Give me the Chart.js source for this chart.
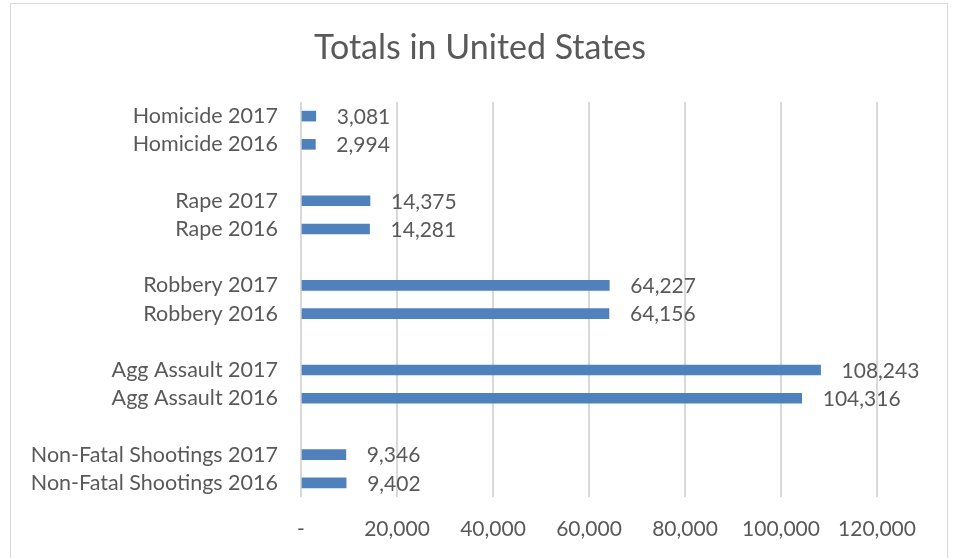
<!DOCTYPE html>
<html>
<head>
<meta charset="utf-8">
<script src="https://cdn.jsdelivr.net/npm/chart.js@4"></script>
<style>
  html, body { margin: 0; padding: 0; background: #fff; }
  #wrap { position: relative; width: 958px; height: 558px; overflow: hidden; }
  #frame { position: absolute; left: 10px; top: 3px; width: 938px; height: 600px; border: 1.5px solid #d9d9d9; box-sizing: border-box; }
  canvas { position: absolute; left: 0; top: 0; }
</style>
</head>
<body>
<div id="wrap">
  <div id="frame"></div>
  <canvas id="totals-chart" width="958" height="558"></canvas>
</div>
<script>
// rows top to bottom, blank rows keep the gaps between groups
const categories = [
  'Homicide 2017', 'Homicide 2016', '',
  'Rape 2017', 'Rape 2016', '',
  'Robbery 2017', 'Robbery 2016', '',
  'Agg Assault 2017', 'Agg Assault 2016', '',
  'Non-Fatal Shootings 2017', 'Non-Fatal Shootings 2016'
];
const totals = [
  3081, 2994, null,
  14375, 14281, null,
  64227, 64156, null,
  108243, 104316, null,
  9346, 9402
];
const xTicks = [0, 20000, 40000, 60000, 80000, 100000, 120000];
const chartTitle = 'Totals in United States';

const textColor = '#595959';
const fontFamily = 'Lato, "Open Sans", sans-serif';

const valueLabels = {
  id: 'valueLabels',
  afterDatasetsDraw(chart) {
    const ctx = chart.ctx;
    const meta = chart.getDatasetMeta(0);
    ctx.save();
    ctx.font = '21px ' + fontFamily;
    ctx.fillStyle = textColor;
    ctx.textAlign = 'left';
    ctx.textBaseline = 'middle';
    meta.data.forEach((bar, i) => {
      const v = totals[i];
      if (v == null) return;
      ctx.fillText(v.toLocaleString('en-US'), bar.x + 21, bar.y + 1);
    });
    ctx.restore();
  }
};

// title centred on the whole frame, not on the padded layout box
const frameTitle = {
  id: 'frameTitle',
  afterDraw(chart) {
    const ctx = chart.ctx;
    ctx.save();
    ctx.font = '34px ' + fontFamily;
    ctx.fillStyle = textColor;
    ctx.textAlign = 'center';
    ctx.textBaseline = 'middle';
    ctx.fillText(chartTitle, 480, 48);
    ctx.restore();
  }
};

const ctx = document.getElementById('totals-chart').getContext('2d');
const chart = new Chart(ctx, {
  type: 'bar',
  data: {
    labels: categories,
    datasets: [{
      label: 'Totals',
      data: totals,
      backgroundColor: '#4F81BD',
      barThickness: 10
    }]
  },
  options: {
    indexAxis: 'y',
    responsive: false,
    animation: false,
    layout: { padding: { top: 102, right: 81, bottom: 0, left: 0 } },
    plugins: {
      legend: { display: false },
      tooltip: { enabled: false },
      title: { display: false }
    },
    scales: {
      x: {
        min: 0,
        max: 120000,
        afterBuildTicks(scale) {
          scale.ticks = xTicks.map(v => ({ value: v }));
        },
        afterFit(scale) { scale.height = 61; },
        grid: { color: '#d9d9d9', lineWidth: 2, drawTicks: false },
        border: { display: false },
        ticks: {
          color: textColor,
          padding: 20,
          font: { family: fontFamily, size: 21 },
          callback: v => v === 0 ? '-' : v.toLocaleString('en-US')
        }
      },
      y: {
        afterFit(scale) { scale.width = 301; },
        grid: { display: false },
        border: { display: false },
        ticks: {
          color: textColor,
          padding: 15,
          autoSkip: false,
          font: { family: fontFamily, size: 21.5 }
        }
      }
    }
  },
  plugins: [valueLabels, frameTitle]
});
</script>
</body>
</html>
